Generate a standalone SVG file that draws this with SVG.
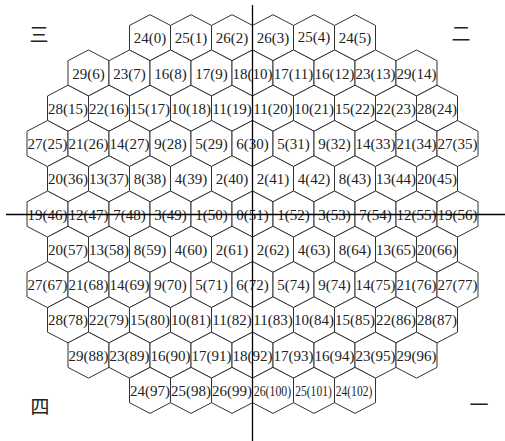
<svg xmlns="http://www.w3.org/2000/svg" xmlns:xlink="http://www.w3.org/1999/xlink" width="505" height="441" viewBox="0 0 505 441">
<style>
.h{fill:#fff;stroke:#333;stroke-width:1}
.t{font-family:"Liberation Serif","Times New Roman",serif;font-size:15px;fill:#222;text-anchor:middle}
.q{font-family:"Noto Sans CJK SC","Noto Sans CJK JP",sans-serif;font-size:19px;fill:#222;text-anchor:middle}
.ax{stroke:#000;stroke-width:1.3;fill:none}
</style>
<defs>
<polygon id="hx" class="h" points="0,-23 20.5,-12.27 20.5,12.27 0,23 -20.5,12.27 -20.5,-12.27"/>
</defs>
<rect width="505" height="441" fill="#fff"/>
<g id="nodes">
<g id="n0"><use href="#hx" x="150" y="37.7"/><text class="t" x="150" y="43.2">24(0)</text></g>
<g id="n1"><use href="#hx" x="191" y="37.7"/><text class="t" x="191" y="43.2">25(1)</text></g>
<g id="n2"><use href="#hx" x="232" y="37.7"/><text class="t" x="232" y="43.2">26(2)</text></g>
<g id="n3"><use href="#hx" x="273" y="37.7"/><text class="t" x="273" y="43.2">26(3)</text></g>
<g id="n4"><use href="#hx" x="314" y="37.7"/><text class="t" x="314" y="41.7">25(4)</text></g>
<g id="n5"><use href="#hx" x="355" y="37.7"/><text class="t" x="355" y="43.2">24(5)</text></g>

<g id="n6"><use href="#hx" x="88.5" y="72.97"/><text class="t" x="88.5" y="78.5">29(6)</text></g>
<g id="n7"><use href="#hx" x="129.5" y="72.97"/><text class="t" x="129.5" y="78.5">23(7)</text></g>
<g id="n8"><use href="#hx" x="170.5" y="72.97"/><text class="t" x="170.5" y="78.5">16(8)</text></g>
<g id="n9"><use href="#hx" x="211.5" y="72.97"/><text class="t" x="211.5" y="78.5">17(9)</text></g>
<g id="n10"><use href="#hx" x="252.5" y="72.97"/><text class="t" x="252.5" y="78.5">18(10)</text></g>
<g id="n11"><use href="#hx" x="293.5" y="72.97"/><text class="t" x="293.5" y="78.5">17(11)</text></g>
<g id="n12"><use href="#hx" x="334.5" y="72.97"/><text class="t" x="334.5" y="78.5">16(12)</text></g>
<g id="n13"><use href="#hx" x="375.5" y="72.97"/><text class="t" x="375.5" y="78.5">23(13)</text></g>
<g id="n14"><use href="#hx" x="416.5" y="72.97"/><text class="t" x="416.5" y="78.5">29(14)</text></g>

<g id="n15"><use href="#hx" x="68" y="108.24"/><text class="t" x="68" y="113.7">28(15)</text></g>
<g id="n16"><use href="#hx" x="109" y="108.24"/><text class="t" x="109" y="113.7">22(16)</text></g>
<g id="n17"><use href="#hx" x="150" y="108.24"/><text class="t" x="150" y="113.7">15(17)</text></g>
<g id="n18"><use href="#hx" x="191" y="108.24"/><text class="t" x="191" y="113.7">10(18)</text></g>
<g id="n19"><use href="#hx" x="232" y="108.24"/><text class="t" x="232" y="113.7">11(19)</text></g>
<g id="n20"><use href="#hx" x="273" y="108.24"/><text class="t" x="273" y="113.7">11(20)</text></g>
<g id="n21"><use href="#hx" x="314" y="108.24"/><text class="t" x="314" y="113.7">10(21)</text></g>
<g id="n22"><use href="#hx" x="355" y="108.24"/><text class="t" x="355" y="113.7">15(22)</text></g>
<g id="n23"><use href="#hx" x="396" y="108.24"/><text class="t" x="396" y="113.7">22(23)</text></g>
<g id="n24"><use href="#hx" x="437" y="108.24"/><text class="t" x="437" y="113.7">28(24)</text></g>

<g id="n25"><use href="#hx" x="47.5" y="143.51"/><text class="t" x="47.5" y="149">27(25)</text></g>
<g id="n26"><use href="#hx" x="88.5" y="143.51"/><text class="t" x="88.5" y="149">21(26)</text></g>
<g id="n27"><use href="#hx" x="129.5" y="143.51"/><text class="t" x="129.5" y="149">14(27)</text></g>
<g id="n28"><use href="#hx" x="170.5" y="143.51"/><text class="t" x="170.5" y="149">9(28)</text></g>
<g id="n29"><use href="#hx" x="211.5" y="143.51"/><text class="t" x="211.5" y="149">5(29)</text></g>
<g id="n30"><use href="#hx" x="252.5" y="143.51"/><text class="t" x="252.5" y="149">6(30)</text></g>
<g id="n31"><use href="#hx" x="293.5" y="143.51"/><text class="t" x="293.5" y="149">5(31)</text></g>
<g id="n32"><use href="#hx" x="334.5" y="143.51"/><text class="t" x="334.5" y="149">9(32)</text></g>
<g id="n33"><use href="#hx" x="375.5" y="143.51"/><text class="t" x="375.5" y="149">14(33)</text></g>
<g id="n34"><use href="#hx" x="416.5" y="143.51"/><text class="t" x="416.5" y="149">21(34)</text></g>
<g id="n35"><use href="#hx" x="457.5" y="143.51"/><text class="t" x="457.5" y="149">27(35)</text></g>

<g id="n36"><use href="#hx" x="68" y="178.78"/><text class="t" x="68" y="184.3">20(36)</text></g>
<g id="n37"><use href="#hx" x="109" y="178.78"/><text class="t" x="109" y="184.3">13(37)</text></g>
<g id="n38"><use href="#hx" x="150" y="178.78"/><text class="t" x="150" y="184.3">8(38)</text></g>
<g id="n39"><use href="#hx" x="191" y="178.78"/><text class="t" x="191" y="184.3">4(39)</text></g>
<g id="n40"><use href="#hx" x="232" y="178.78"/><text class="t" x="232" y="184.3">2(40)</text></g>
<g id="n41"><use href="#hx" x="273" y="178.78"/><text class="t" x="273" y="184.3">2(41)</text></g>
<g id="n42"><use href="#hx" x="314" y="178.78"/><text class="t" x="314" y="184.3">4(42)</text></g>
<g id="n43"><use href="#hx" x="355" y="178.78"/><text class="t" x="355" y="184.3">8(43)</text></g>
<g id="n44"><use href="#hx" x="396" y="178.78"/><text class="t" x="396" y="184.3">13(44)</text></g>
<g id="n45"><use href="#hx" x="437" y="178.78"/><text class="t" x="437" y="184.3">20(45)</text></g>

<g id="n46"><use href="#hx" x="47.5" y="214.05"/><text class="t" x="47.5" y="219.6">19(46)</text></g>
<g id="n47"><use href="#hx" x="88.5" y="214.05"/><text class="t" x="88.5" y="219.6">12(47)</text></g>
<g id="n48"><use href="#hx" x="129.5" y="214.05"/><text class="t" x="129.5" y="219.6">7(48)</text></g>
<g id="n49"><use href="#hx" x="170.5" y="214.05"/><text class="t" x="170.5" y="219.6">3(49)</text></g>
<g id="n50"><use href="#hx" x="211.5" y="214.05"/><text class="t" x="211.5" y="219.6">1(50)</text></g>
<g id="n51"><use href="#hx" x="252.5" y="214.05"/><text class="t" x="252.5" y="219.6">0(51)</text></g>
<g id="n52"><use href="#hx" x="293.5" y="214.05"/><text class="t" x="293.5" y="219.6">1(52)</text></g>
<g id="n53"><use href="#hx" x="334.5" y="214.05"/><text class="t" x="334.5" y="219.6">3(53)</text></g>
<g id="n54"><use href="#hx" x="375.5" y="214.05"/><text class="t" x="375.5" y="219.6">7(54)</text></g>
<g id="n55"><use href="#hx" x="416.5" y="214.05"/><text class="t" x="416.5" y="219.6">12(55)</text></g>
<g id="n56"><use href="#hx" x="457.5" y="214.05"/><text class="t" x="457.5" y="219.6">19(56)</text></g>

<g id="n57"><use href="#hx" x="68" y="249.32"/><text class="t" x="68" y="254.8">20(57)</text></g>
<g id="n58"><use href="#hx" x="109" y="249.32"/><text class="t" x="109" y="254.8">13(58)</text></g>
<g id="n59"><use href="#hx" x="150" y="249.32"/><text class="t" x="150" y="254.8">8(59)</text></g>
<g id="n60"><use href="#hx" x="191" y="249.32"/><text class="t" x="191" y="254.8">4(60)</text></g>
<g id="n61"><use href="#hx" x="232" y="249.32"/><text class="t" x="232" y="254.8">2(61)</text></g>
<g id="n62"><use href="#hx" x="273" y="249.32"/><text class="t" x="273" y="254.8">2(62)</text></g>
<g id="n63"><use href="#hx" x="314" y="249.32"/><text class="t" x="314" y="254.8">4(63)</text></g>
<g id="n64"><use href="#hx" x="355" y="249.32"/><text class="t" x="355" y="254.8">8(64)</text></g>
<g id="n65"><use href="#hx" x="396" y="249.32"/><text class="t" x="396" y="254.8">13(65)</text></g>
<g id="n66"><use href="#hx" x="437" y="249.32"/><text class="t" x="437" y="254.8">20(66)</text></g>

<g id="n67"><use href="#hx" x="47.5" y="284.59"/><text class="t" x="47.5" y="290.1">27(67)</text></g>
<g id="n68"><use href="#hx" x="88.5" y="284.59"/><text class="t" x="88.5" y="290.1">21(68)</text></g>
<g id="n69"><use href="#hx" x="129.5" y="284.59"/><text class="t" x="129.5" y="290.1">14(69)</text></g>
<g id="n70"><use href="#hx" x="170.5" y="284.59"/><text class="t" x="170.5" y="290.1">9(70)</text></g>
<g id="n71"><use href="#hx" x="211.5" y="284.59"/><text class="t" x="211.5" y="290.1">5(71)</text></g>
<g id="n72"><use href="#hx" x="252.5" y="284.59"/><text class="t" x="252.5" y="290.1">6(72)</text></g>
<g id="n73"><use href="#hx" x="293.5" y="284.59"/><text class="t" x="293.5" y="290.1">5(74)</text></g>
<g id="n74"><use href="#hx" x="334.5" y="284.59"/><text class="t" x="334.5" y="290.1">9(74)</text></g>
<g id="n75"><use href="#hx" x="375.5" y="284.59"/><text class="t" x="375.5" y="290.1">14(75)</text></g>
<g id="n76"><use href="#hx" x="416.5" y="284.59"/><text class="t" x="416.5" y="290.1">21(76)</text></g>
<g id="n77"><use href="#hx" x="457.5" y="284.59"/><text class="t" x="457.5" y="290.1">27(77)</text></g>

<g id="n78"><use href="#hx" x="68" y="319.86"/><text class="t" x="68" y="325.4">28(78)</text></g>
<g id="n79"><use href="#hx" x="109" y="319.86"/><text class="t" x="109" y="325.4">22(79)</text></g>
<g id="n80"><use href="#hx" x="150" y="319.86"/><text class="t" x="150" y="325.4">15(80)</text></g>
<g id="n81"><use href="#hx" x="191" y="319.86"/><text class="t" x="191" y="325.4">10(81)</text></g>
<g id="n82"><use href="#hx" x="232" y="319.86"/><text class="t" x="232" y="325.4">11(82)</text></g>
<g id="n83"><use href="#hx" x="273" y="319.86"/><text class="t" x="273" y="325.4">11(83)</text></g>
<g id="n84"><use href="#hx" x="314" y="319.86"/><text class="t" x="314" y="325.4">10(84)</text></g>
<g id="n85"><use href="#hx" x="355" y="319.86"/><text class="t" x="355" y="325.4">15(85)</text></g>
<g id="n86"><use href="#hx" x="396" y="319.86"/><text class="t" x="396" y="325.4">22(86)</text></g>
<g id="n87"><use href="#hx" x="437" y="319.86"/><text class="t" x="437" y="325.4">28(87)</text></g>

<g id="n88"><use href="#hx" x="88.5" y="355.13"/><text class="t" x="88.5" y="360.6">29(88)</text></g>
<g id="n89"><use href="#hx" x="129.5" y="355.13"/><text class="t" x="129.5" y="360.6">23(89)</text></g>
<g id="n90"><use href="#hx" x="170.5" y="355.13"/><text class="t" x="170.5" y="360.6">16(90)</text></g>
<g id="n91"><use href="#hx" x="211.5" y="355.13"/><text class="t" x="211.5" y="360.6">17(91)</text></g>
<g id="n92"><use href="#hx" x="252.5" y="355.13"/><text class="t" x="252.5" y="360.6">18(92)</text></g>
<g id="n93"><use href="#hx" x="293.5" y="355.13"/><text class="t" x="293.5" y="360.6">17(93)</text></g>
<g id="n94"><use href="#hx" x="334.5" y="355.13"/><text class="t" x="334.5" y="360.6">16(94)</text></g>
<g id="n95"><use href="#hx" x="375.5" y="355.13"/><text class="t" x="375.5" y="360.6">23(95)</text></g>
<g id="n96"><use href="#hx" x="416.5" y="355.13"/><text class="t" x="416.5" y="360.6">29(96)</text></g>

<g id="n97"><use href="#hx" x="150" y="390.4"/><text class="t" x="150" y="395.9">24(97)</text></g>
<g id="n98"><use href="#hx" x="191" y="390.4"/><text class="t" x="191" y="395.9">25(98)</text></g>
<g id="n99"><use href="#hx" x="232" y="390.4"/><text class="t" x="232" y="395.9">26(99)</text></g>
<g id="n100"><use href="#hx" x="273" y="390.4"/><text class="t" transform="translate(272.5,395.9) scale(0.79,1)">26(100)</text></g>
<g id="n101"><use href="#hx" x="314" y="390.4"/><text class="t" transform="translate(313.5,395.9) scale(0.77,1)">25(101)</text></g>
<g id="n102"><use href="#hx" x="355" y="390.4"/><text class="t" transform="translate(354,395.9) scale(0.77,1)">24(102)</text></g>
</g>
<g id="quadrants">
<text class="q" x="39" y="41.5">三</text>
<text class="q" x="461" y="41">二</text>
<text class="q" x="40" y="414">四</text>
<text class="q" x="479" y="412">一</text>
</g>
<g id="connectors">
<line class="ax" x1="252.5" y1="5" x2="252.5" y2="441"/>
<line class="ax" x1="6" y1="214.5" x2="505" y2="214.5"/>
</g>
</svg>
